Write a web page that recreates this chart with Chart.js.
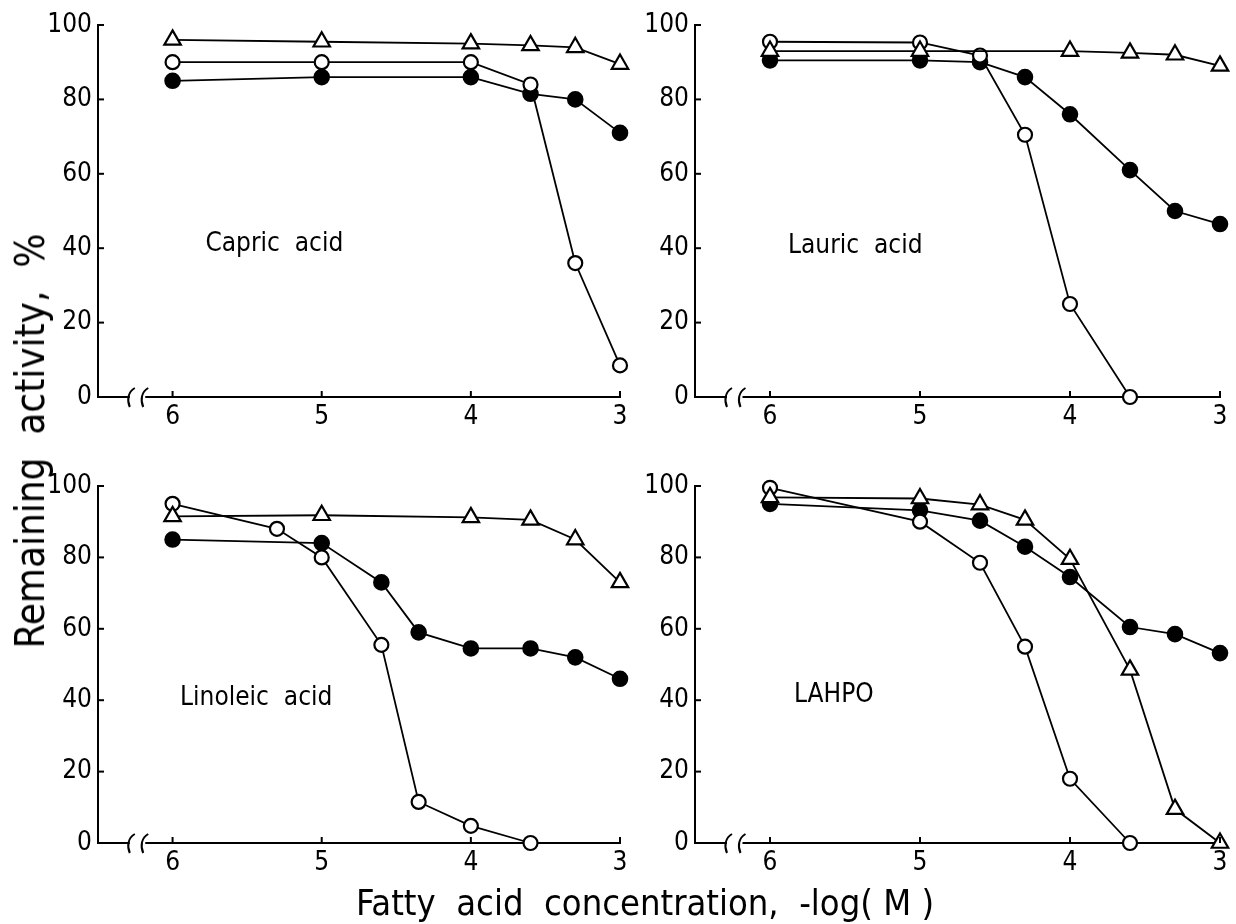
<!DOCTYPE html>
<html><head><meta charset="utf-8">
<script src="https://cdn.jsdelivr.net/npm/chart.js@4/dist/chart.umd.min.js"></script>
<style>
html,body{margin:0;padding:0;background:#fff;}
#wrap{position:relative;width:1236px;height:924px;overflow:hidden;background:#fff;}
canvas{position:absolute;}
.t{position:absolute;font-family:'DejaVu Sans Condensed','Liberation Sans Narrow','DejaVu Sans',sans-serif;color:#000;white-space:pre;line-height:1;}
#ytitle{left:30px;top:441px;transform:translate(-50%,-50%) rotate(-90deg);font-size:40px;}
#xtitle{left:645px;top:903px;transform:translate(-50%,-50%);font-size:36px;}
</style></head>
<body><div id="wrap">
<canvas id="c1" width="640" height="440" style="left:0;top:0"></canvas>
<canvas id="c2" width="636" height="440" style="left:600px;top:0"></canvas>
<canvas id="c3" width="640" height="460" style="left:0;top:440px"></canvas>
<canvas id="c4" width="636" height="460" style="left:600px;top:440px"></canvas>
<div class="t" id="ytitle">Remaining  activity,  %</div>
<div class="t" id="xtitle">Fatty  acid  concentration,  -log( M )</div>
</div>
<script>
// ---- data ----
const xTicks = [6, 5, 4, 3];
const yTicks = [0, 20, 40, 60, 80, 100];

const capricTriX  = [6, 5, 4, 3.6, 3.3, 3];
const capricTri   = [96, 95.5, 95, 94.5, 94, 89.5];
const capricOpenX = [6, 5, 4, 3.6, 3.3, 3];
const capricOpen  = [90, 90, 90, 84, 36, 8.5];
const capricFillX = [6, 5, 4, 3.6, 3.3, 3];
const capricFill  = [85, 86, 86, 81.5, 80, 71];

const lauricTriX  = [6, 5, 4, 3.6, 3.3, 3];
const lauricTri   = [93, 93, 93, 92.5, 92, 89];
const lauricOpenX = [6, 5, 4.6, 4.3, 4, 3.6];
const lauricOpen  = [95.5, 95.3, 91.8, 70.5, 25, 0];
const lauricFillX = [6, 5, 4.6, 4.3, 4, 3.6, 3.3, 3];
const lauricFill  = [90.5, 90.5, 90, 86, 76, 61, 50, 46.5];

const linoTriX  = [6, 5, 4, 3.6, 3.3, 3];
const linoTri   = [91.5, 91.8, 91.2, 90.5, 85, 73];
const linoOpenX = [6, 5.3, 5, 4.6, 4.35, 4, 3.6];
const linoOpen  = [95, 88, 80, 55.5, 11.5, 4.8, 0];
const linoFillX = [6, 5, 4.6, 4.35, 4, 3.6, 3.3, 3];
const linoFill  = [85, 84, 73, 59, 54.5, 54.5, 52, 46];

const lahpoTriX  = [6, 5, 4.6, 4.3, 4, 3.6, 3.3, 3];
const lahpoTri   = [96.8, 96.5, 94.8, 90.5, 79.5, 48.5, 9.5, 0];
const lahpoOpenX = [6, 5, 4.6, 4.3, 4, 3.6];
const lahpoOpen  = [99.5, 90, 78.5, 55, 18, 0];
const lahpoFillX = [6, 5, 4.6, 4.3, 4, 3.6, 3.3, 3];
const lahpoFill  = [95, 93.2, 90.3, 83, 74.5, 60.5, 58.5, 53.2];

const panelNames = ['Capric  acid', 'Lauric  acid', 'Linoleic  acid', 'LAHPO'];
const panelNamePos = [[5.78, 41], [5.88, 40.5], [5.95, 40.5], [5.84, 41.5]];

// ---- drawing ----
const FONT = "'DejaVu Sans Condensed','Liberation Sans Narrow','DejaVu Sans',sans-serif";

function pts(xs, ys) { return xs.map((x, i) => ({x: x, y: ys[i]})); }

function makeDatasets(tx, ty, ox, oy, fx, fy) {
  const base = {borderColor: '#000', borderWidth: 1.8, tension: 0, clip: false, pointBorderColor: '#000', pointBorderWidth: 2.2};
  return [
    Object.assign({}, base, {data: pts(tx, ty), pointStyle: 'triangle', pointRadius: 9.5, pointBackgroundColor: '#fff'}),
    Object.assign({}, base, {data: pts(ox, oy), pointStyle: 'circle', pointRadius: 7, pointBackgroundColor: '#fff'}),
    Object.assign({}, base, {data: pts(fx, fy), pointStyle: 'circle', pointRadius: 7.2, pointBackgroundColor: '#000'})
  ];
}

const decor = {
  id: 'decor',
  afterDraw(chart, args, opts) {
    const ctx = chart.ctx, xs = chart.scales.x, ys = chart.scales.y;
    const y0 = ys.getPixelForValue(0), x0 = xs.left;
    ctx.save();
    ctx.strokeStyle = '#000'; ctx.lineWidth = 2;
    // inward ticks
    xTicks.forEach(v => { const px = xs.getPixelForValue(v); ctx.beginPath(); ctx.moveTo(px, y0); ctx.lineTo(px, y0 - 6); ctx.stroke(); });
    yTicks.forEach(v => { const py = ys.getPixelForValue(v); ctx.beginPath(); ctx.moveTo(x0, py); ctx.lineTo(x0 + 6, py); ctx.stroke(); });
    // axis break
    const b1 = xs.getPixelForValue(6.28), b2 = xs.getPixelForValue(6.19);
    ctx.fillStyle = '#fff'; ctx.fillRect(b1 - 1, y0 - 3, b2 - b1 + 2, 6);
    [b1, b2].forEach(bx => {
      ctx.beginPath(); ctx.lineWidth = 2;
      ctx.moveTo(bx + 4, y0 - 9);
      ctx.bezierCurveTo(bx - 3, y0 - 5, bx - 4, y0 + 3, bx - 1, y0 + 10);
      ctx.stroke();
    });
    // panel name
    ctx.fillStyle = '#000';
    ctx.font = '26px ' + FONT;
    ctx.textBaseline = 'middle'; ctx.textAlign = 'left';
    ctx.fillText(opts.name, xs.getPixelForValue(opts.pos[0]), ys.getPixelForValue(opts.pos[1]));
    ctx.restore();
  }
};

function makeChart(id, datasets, name, pos, yW, xH, padTop, padRight) {
  new Chart(document.getElementById(id), {
    type: 'line',
    data: {datasets: datasets},
    plugins: [decor],
    options: {
      responsive: false, animation: false, devicePixelRatio: 1,
      layout: {padding: {top: padTop, right: padRight, left: 0, bottom: 0}},
      plugins: {legend: {display: false}, tooltip: {enabled: false}, decor: {name: name, pos: pos}},
      scales: {
        x: {
          type: 'linear', min: 3, max: 6.5, reverse: true,
          afterBuildTicks: s => { s.ticks = xTicks.map(v => ({value: v})); },
          afterFit: s => { s.height = xH; },
          grid: {display: false, drawTicks: false},
          border: {display: true, color: '#000', width: 2},
          ticks: {color: '#000', padding: 5, font: {family: FONT, size: 26}, maxRotation: 0, callback: v => String(v)}
        },
        y: {
          min: 0, max: 100,
          afterBuildTicks: s => { s.ticks = yTicks.map(v => ({value: v})); },
          afterFit: s => { s.width = yW; },
          grid: {display: false, drawTicks: false},
          border: {display: true, color: '#000', width: 2},
          ticks: {color: '#000', padding: 6, font: {family: FONT, size: 26}, callback: v => String(v)}
        }
      }
    }
  });
}

makeChart('c1', makeDatasets(capricTriX, capricTri, capricOpenX, capricOpen, capricFillX, capricFill), panelNames[0], panelNamePos[0], 98, 43, 25, 20);
makeChart('c2', makeDatasets(lauricTriX, lauricTri, lauricOpenX, lauricOpen, lauricFillX, lauricFill), panelNames[1], panelNamePos[1], 95, 43, 25, 16);
makeChart('c3', makeDatasets(linoTriX, linoTri, linoOpenX, linoOpen, linoFillX, linoFill), panelNames[2], panelNamePos[2], 98, 57, 46, 20);
makeChart('c4', makeDatasets(lahpoTriX, lahpoTri, lahpoOpenX, lahpoOpen, lahpoFillX, lahpoFill), panelNames[3], panelNamePos[3], 95, 57, 46, 16);
</script>
</body></html>
